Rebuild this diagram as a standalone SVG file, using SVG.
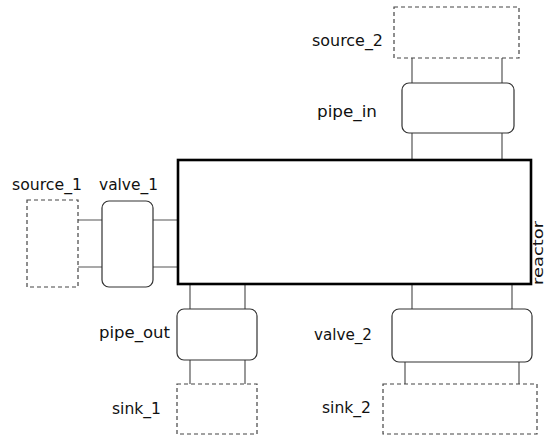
<svg xmlns="http://www.w3.org/2000/svg" width="546" height="437" viewBox="0 0 546 437">
  <style>
    .lbl { font-family: "DejaVu Sans", "Liberation Sans", sans-serif; font-size: 15px; fill: #111; }
    .end { text-anchor: end; }
    .port { fill: #fff; stroke: #444; stroke-width: 1.2; stroke-dasharray: 4 3; }
    .unit { fill: #fff; stroke: #333; stroke-width: 1.2; }
    .vessel { fill: #fff; stroke: #000; stroke-width: 2.6; }
    .pipe { stroke: #555; stroke-width: 1.2; fill: none; }
  </style>

  <!-- pipes between units -->
  <g id="connectors">
    <path class="pipe" d="M78 220H102M78 267H102"/>
    <path class="pipe" d="M153 220H178M153 267H178"/>
    <path class="pipe" d="M412 58V83M502 58V83"/>
    <path class="pipe" d="M412 133V160M502 133V160"/>
    <path class="pipe" d="M190 285V309M245 285V309"/>
    <path class="pipe" d="M190 360V384M245 360V384"/>
    <path class="pipe" d="M412 285V309M512 285V309"/>
    <path class="pipe" d="M405 362V384M519 362V384"/>
  </g>

  <g id="reactor">
    <rect class="vessel" x="178" y="160" width="353" height="124"/>
    <text class="lbl" style="font-size:13.5px" transform="translate(542.5 285) rotate(-90)" textLength="64" lengthAdjust="spacingAndGlyphs">reactor</text>
  </g>

  <g id="source_1">
    <rect class="port" x="27" y="200" width="51" height="87"/>
    <text class="lbl end" x="82" y="190" textLength="70" lengthAdjust="spacingAndGlyphs">source_1</text>
  </g>

  <g id="valve_1">
    <rect class="unit" x="102" y="201" width="51" height="86" rx="7"/>
    <text class="lbl end" x="158" y="190" textLength="59" lengthAdjust="spacingAndGlyphs">valve_1</text>
  </g>

  <g id="source_2">
    <rect class="port" x="394" y="7" width="125" height="51"/>
    <text class="lbl end" x="383" y="46" textLength="71" lengthAdjust="spacingAndGlyphs">source_2</text>
  </g>

  <g id="pipe_in">
    <rect class="unit" x="402" y="83" width="112" height="50" rx="7"/>
    <text class="lbl end" x="377" y="117" textLength="60" lengthAdjust="spacingAndGlyphs">pipe_in</text>
  </g>

  <g id="pipe_out">
    <rect class="unit" x="177" y="309" width="80" height="51" rx="7"/>
    <text class="lbl end" x="170" y="338" textLength="71" lengthAdjust="spacingAndGlyphs">pipe_out</text>
  </g>

  <g id="sink_1">
    <rect class="port" x="177" y="384" width="80" height="50"/>
    <text class="lbl end" x="161" y="414" textLength="49" lengthAdjust="spacingAndGlyphs">sink_1</text>
  </g>

  <g id="valve_2">
    <rect class="unit" x="392" y="309" width="140" height="53" rx="7"/>
    <text class="lbl end" x="372" y="340" textLength="58" lengthAdjust="spacingAndGlyphs">valve_2</text>
  </g>

  <g id="sink_2">
    <rect class="port" x="383" y="384" width="154" height="50"/>
    <text class="lbl end" x="371" y="413" textLength="49" lengthAdjust="spacingAndGlyphs">sink_2</text>
  </g>
</svg>
